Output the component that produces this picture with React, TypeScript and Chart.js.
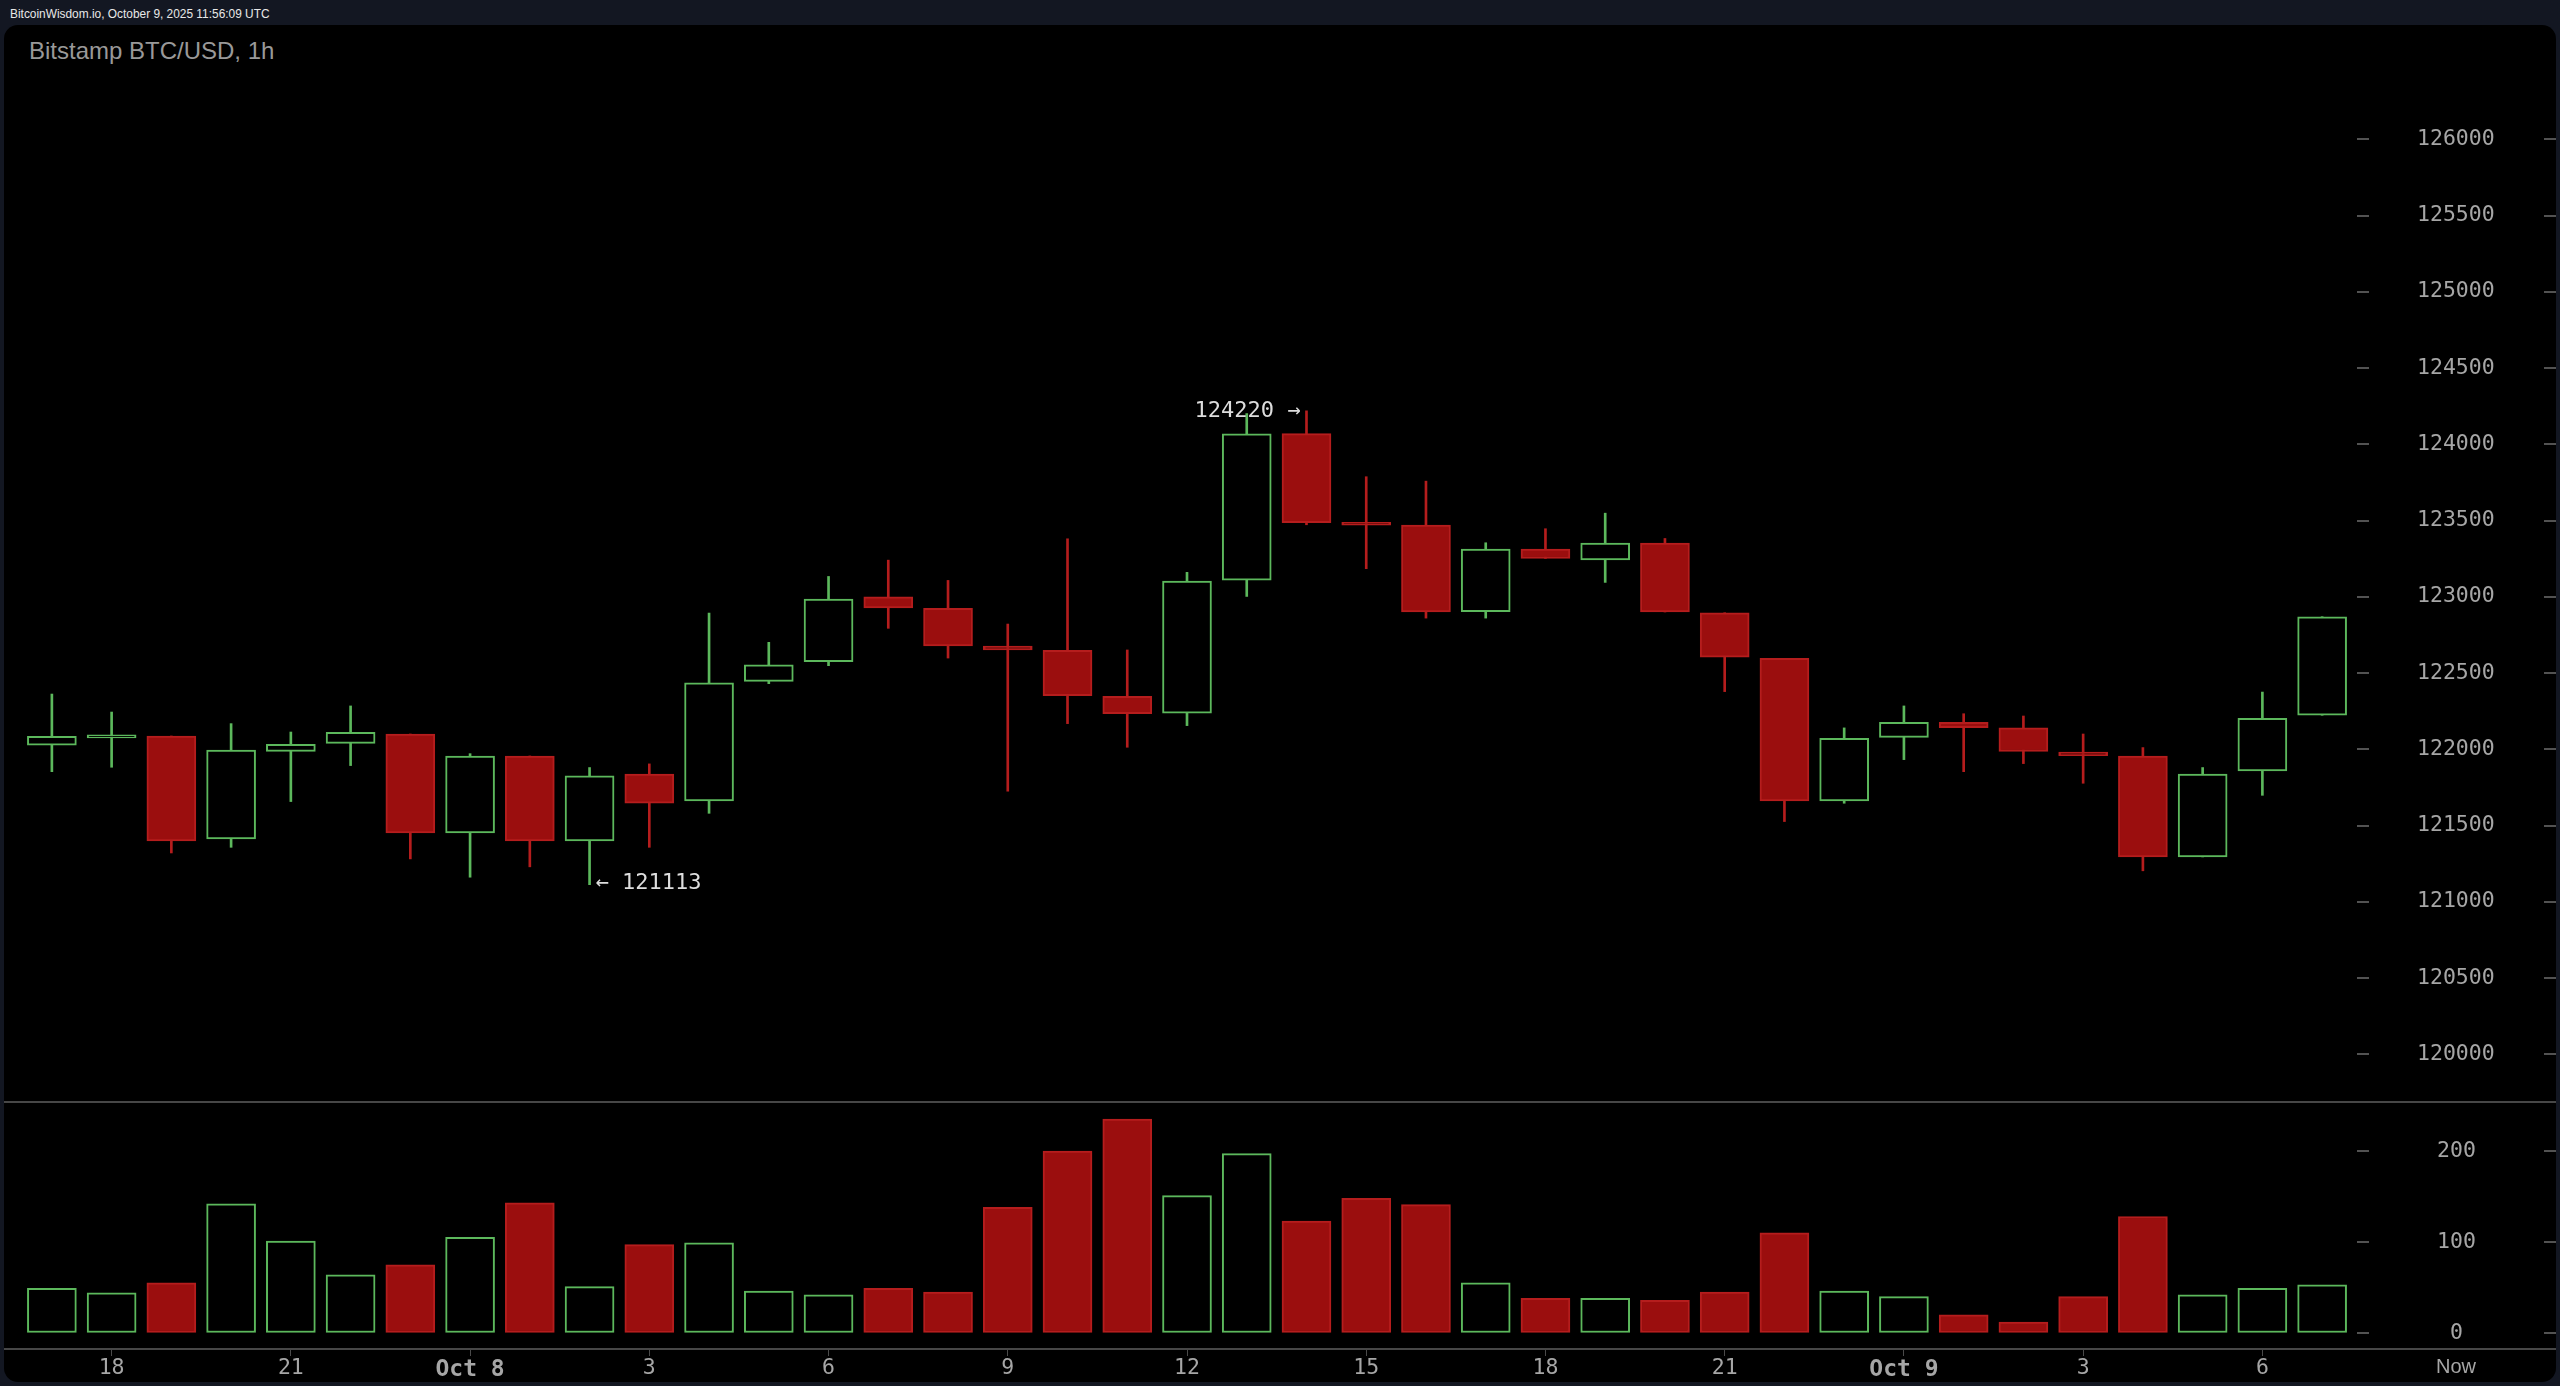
import Chart from 'chart.js/auto';
import { useEffect, useRef } from 'react';

const hourLabels = ['', '18', '', '', '21', '', '', 'Oct 8', '', '', '3', '', '', '6', '', '', '9', '', '', '12', '', '', '15', '', '', '18', '', '', '21', '', '', 'Oct 9', '', '', '3', '', '', '6', ''];
const opens = [122027, 122076, 122088, 121413, 121987, 122040, 122101, 121452, 121957, 121400, 121839, 121662, 122446, 122575, 123001, 122925, 122678, 122649, 122348, 122237, 123110, 124071, 123486, 123471, 122903, 123313, 123243, 123353, 122896, 122597, 121662, 122079, 122178, 122141, 121983, 121957, 121295, 121859, 122224];
const closes = [122086, 122084, 121400, 121996, 122033, 122112, 121452, 121957, 121400, 121826, 121647, 122437, 122555, 122986, 122927, 122678, 122652, 122353, 122235, 123104, 124069, 123486, 123470, 122901, 123313, 123252, 123353, 122901, 122604, 121662, 122073, 122178, 122143, 121986, 121959, 121295, 121839, 122204, 122870];
const highs = [122363, 122245, 122088, 122169, 122114, 122285, 122101, 121972, 121957, 121881, 121905, 122894, 122702, 123134, 123241, 123108, 122822, 123381, 122652, 123161, 124202, 124220, 123788, 123759, 123355, 123447, 123549, 123383, 122896, 122597, 122141, 122285, 122234, 122219, 122101, 122012, 121881, 122376, 122870];
const lows = [121854, 121883, 121321, 121358, 121658, 121894, 121282, 121162, 121230, 121113, 121358, 121581, 122431, 122549, 122794, 122599, 121726, 122169, 122014, 122156, 123003, 123473, 123185, 122861, 122861, 123252, 123095, 122901, 122379, 121527, 121647, 121933, 121854, 121907, 121778, 121204, 121295, 121699, 122224];
const volumes = [49, 44, 55, 142, 101, 64, 75, 105, 143, 51, 97, 99, 46, 42, 49, 45, 138, 200, 235, 151, 197, 123, 148, 141, 55, 38, 38, 36, 45, 110, 46, 40, 20, 12, 40, 128, 42, 49, 53];
const priceTicks = [120000, 120500, 121000, 121500, 122000, 122500, 123000, 123500, 124000, 124500, 125000, 125500, 126000];
const volumeTicks = [0, 100, 200];

const UP = '#5cb85c';
const DOWN_FILL = '#9b0e0e';
const DOWN_LINE = '#b51d1d';
const LABEL = '#a6a6a6';
const isUp = (i: number) => closes[i] >= opens[i];
const axisFont = 'DejaVu Sans Mono';

// y axes: fixed width, and no extra top/bottom padding from the label offset
const fitY = (s: any) => {
  s.width = 208;
  s.paddingTop = 0;
  s.paddingBottom = 0;
};

// tick dashes either side of the labels, separators, high/low notes and "Now"
const decorations = {
  id: 'decorations',
  afterDraw(chart: any) {
    const { ctx, scales } = chart;
    ctx.save();
    ctx.fillStyle = '#474747';
    ctx.fillRect(4, scales.vol.top - 1, 2552, 2);
    ctx.fillRect(4, scales.vol.bottom - 1, 2552, 2);

    ctx.fillStyle = '#525252';
    for (const id of ['y', 'vol']) {
      for (const t of scales[id].ticks) {
        const py = Math.round(scales[id].getPixelForValue(t.value));
        ctx.fillRect(2357, py - 1, 12, 2);
        ctx.fillRect(2544, py - 1, 12, 2);
      }
    }

    ctx.font = `22px "${axisFont}"`;
    ctx.textBaseline = 'middle';
    ctx.fillStyle = '#dddddd';
    const hi = highs.indexOf(Math.max(...highs));
    ctx.textAlign = 'right';
    ctx.fillText('124220 →', scales.x.getPixelForValue(hi) - 6, scales.y.getPixelForValue(highs[hi]));
    const lo = lows.indexOf(Math.min(...lows));
    ctx.textAlign = 'left';
    ctx.fillText('← 121113', scales.x.getPixelForValue(lo) + 6, scales.y.getPixelForValue(lows[lo]) - 1);

    ctx.font = '20px "Liberation Sans"';
    ctx.fillStyle = LABEL;
    ctx.textAlign = 'center';
    ctx.fillText('Now', 2456, 1367);
    ctx.restore();
  },
};

export default function App() {
  const chartRef = useRef<HTMLCanvasElement | null>(null);

  useEffect(() => {
    if (!chartRef.current) return;
    document.body.style.margin = '0';
    const chart = new Chart(chartRef.current, {
      type: 'bar',
      data: {
        labels: hourLabels,
        datasets: [
          {
            label: 'Body',
            yAxisID: 'y',
            data: opens.map((o, i) => [o, closes[i]]) as any,
            grouped: false,
            barThickness: 49,
            minBarLength: 3,
            borderWidth: 2,
            borderSkipped: false,
            backgroundColor: opens.map((_, i) => (isUp(i) ? '#000000' : DOWN_FILL)),
            borderColor: opens.map((_, i) => (isUp(i) ? UP : DOWN_LINE)),
          },
          {
            label: 'Wick',
            yAxisID: 'y',
            data: lows.map((l, i) => [l, highs[i]]) as any,
            grouped: false,
            barThickness: 2,
            borderWidth: 0,
            backgroundColor: opens.map((_, i) => (isUp(i) ? UP : DOWN_LINE)),
          },
          {
            label: 'Volume',
            yAxisID: 'vol',
            data: volumes,
            grouped: false,
            barThickness: 49,
            borderWidth: 2,
            borderSkipped: false,
            backgroundColor: opens.map((_, i) => (isUp(i) ? '#000000' : DOWN_FILL)),
            borderColor: opens.map((_, i) => (isUp(i) ? UP : DOWN_LINE)),
          },
        ],
      },
      options: {
        responsive: false,
        devicePixelRatio: 1,
        animation: false,
        layout: { padding: { left: 22, top: 25, right: 0, bottom: 0 } },
        plugins: { legend: { display: false }, tooltip: { enabled: false }, title: { display: false } },
        scales: {
          x: {
            type: 'category',
            offset: true,
            afterFit: (s: any) => { s.height = 37; },
            border: { display: false },
            grid: {
              offset: false,
              drawOnChartArea: false,
              tickLength: 7,
              tickColor: (c: any) => (hourLabels[c.index] ? '#4a4a4a' : 'transparent'),
            },
            ticks: {
              autoSkip: false,
              maxRotation: 0,
              padding: 0,
              color: LABEL,
              font: (c: any) =>
                hourLabels[c.index]?.startsWith('Oct')
                  ? { family: axisFont, size: 23, weight: 'bold' }
                  : { family: axisFont, size: 21.5 },
            },
          },
          y: {
            type: 'linear',
            position: 'right',
            stack: 'panes',
            stackWeight: 1077,
            min: 119688,
            max: 126750,
            afterFit: fitY,
            afterBuildTicks: (s: any) => { s.ticks = priceTicks.map((value) => ({ value })); },
            border: { display: false },
            grid: { drawOnChartArea: false, drawTicks: false },
            ticks: {
              crossAlign: 'center',
              padding: 65,
              color: LABEL,
              font: { family: axisFont, size: 21.5 },
              callback: (v: any) => String(v),
            },
          },
          vol: {
            type: 'linear',
            position: 'right',
            stack: 'panes',
            stackWeight: 247,
            min: -17.6,
            max: 253.8,
            afterFit: fitY,
            afterBuildTicks: (s: any) => { s.ticks = volumeTicks.map((value) => ({ value })); },
            border: { display: false },
            grid: { drawOnChartArea: false, drawTicks: false },
            ticks: {
              crossAlign: 'center',
              padding: 85,
              color: LABEL,
              font: { family: axisFont, size: 21.5 },
              callback: (v: any) => String(v),
            },
          },
        },
      },
      plugins: [decorations],
    } as any);

    return () => chart.destroy();
  }, []);

  return (
    <div style={{ position: 'absolute', left: 0, top: 0, width: 2560, height: 1386, background: '#131722', overflow: 'hidden' }}>
      <div style={{ position: 'absolute', left: 4, top: 25, width: 2552, height: 1357, background: '#000', borderRadius: 14 }} />
      <div style={{ position: 'absolute', left: 10, top: 5, font: '11.9px "Liberation Sans"', lineHeight: '18px', color: '#e8e8e8', whiteSpace: 'nowrap' }}>
        BitcoinWisdom.io, October 9, 2025 11:56:09 UTC
      </div>
      <div style={{ position: 'absolute', left: 29, top: 36, font: '24px "Liberation Sans"', lineHeight: '30px', color: '#999999', whiteSpace: 'nowrap' }}>
        Bitstamp BTC/USD, 1h
      </div>
      <canvas ref={chartRef} width={2560} height={1386} style={{ position: 'absolute', left: 0, top: 0, display: 'block' }}></canvas>
    </div>
  );
}
